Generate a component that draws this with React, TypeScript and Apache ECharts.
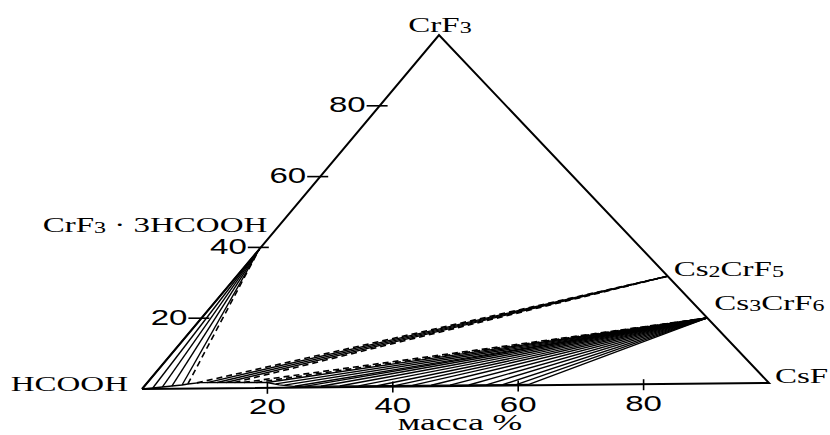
import React, { useEffect, useRef } from 'react';
import * as echarts from 'echarts';

// Compositions are [CsF mass %, CrF3 mass %]; HCOOH is the remainder.
const vertexHCOOH: [number, number] = [0, 0];
const vertexCsF: [number, number] = [100, 0];
const vertexCrF3: [number, number] = [0, 100];
const solvate: [number, number] = [0, 39.5]; // CrF3·3HCOOH
const cs2crf5: [number, number] = [69.3, 30.7];
const cs3crf6: [number, number] = [81.3, 18.7];

const leftTicks = [20, 40, 60, 80];
const bottomTicks = [20, 40, 60, 80];
const axisTitle = 'масса %';

// Liquid (solubility) curve
const liquidus: [number, number][] = [
  [0, 0], [1.6, 0.25], [3.0, 0.5], [4.4, 0.77], [5.9, 1.03], [6.7, 1.3], [8.5, 1.65],
  [13, 1.62], [19.2, 1.5], [21.5, 0.8], [24, 0.35], [61.6, 0.25],
];

// Tie lines: liquid compositions connected to solid phases
const solvateSolid: [number, number][] = [[0, 0], [1.6, 0.25], [3.0, 0.5], [4.4, 0.77], [5.9, 1.03]];
const solvateDashed: [number, number][] = [[6.7, 1.3]];
const cs2Solid: [number, number][] = [[9.6, 1.65], [11.2, 1.64], [12.6, 1.62]];
const cs2Dashed: [number, number][] = [[8.0, 1.6], [14.0, 1.61]];
const cs3Solid: [number, number][] = [
  [19.2, 1.5], [20.8, 1.1], [22.4, 0.7], [24.2, 0.35], [25.8, 0.3], [28.4, 0.3], [31.4, 0.3],
  [34.4, 0.3], [37.4, 0.28], [40.2, 0.28], [43, 0.28], [46, 0.27], [49, 0.27], [52, 0.26],
  [54.8, 0.26], [57.4, 0.25], [59.6, 0.25], [61.6, 0.25],
];
const cs3Dashed: [number, number][] = [[15.5, 1.6], [17.5, 1.55]];

// Frame geometry (layout of the drawn triangle)
const SKEW_X = 0.4737;
const TILT_Y = 0.0169;
const toXY = (p: [number, number]): [number, number] => [p[0] + SKEW_X * p[1], p[1] + TILT_Y * p[0]];

const serif = '"Liberation Serif", "Times New Roman", serif';
const sans = '"Liberation Sans", Arial, sans-serif';
const FS = 22;
const SUB = 16;
const SX = 1.5;

function label(x: number, y: number, text: string, align: string, rich?: boolean, font = serif, size = FS, sx = SX) {
  const base: any = {
    type: 'text',
    x,
    y,
    scaleX: sx,
    silent: true,
    style: {
      text,
      fill: '#000',
      fontFamily: font,
      fontSize: size,
      align,
      textAlign: align,
      verticalAlign: 'middle',
      textVerticalAlign: 'middle',
    },
  };
  if (rich) {
    base.style.rich = {
      m: { fontFamily: serif, fontSize: FS, fill: '#000', verticalAlign: 'bottom' },
      s: { fontFamily: serif, fontSize: SUB, fill: '#000', verticalAlign: 'bottom' },
    };
  }
  return base;
}

export default function App() {
  const ref = useRef<HTMLDivElement>(null);
  useEffect(() => {
    const chart = echarts.init(ref.current!, undefined, { renderer: 'svg' });
    const tie = (from: [number, number][], to: [number, number]) =>
      from.map((p) => ({ coords: [toXY(p), toXY(to)] }));
    const lineSeries = (data: any[], width: number, type: any, polyline = false) => ({
      type: 'lines',
      coordinateSystem: 'cartesian2d',
      polyline,
      clip: false,
      silent: true,
      animation: false,
      lineStyle: { color: '#000', width, type, opacity: 1 },
      data,
    });
    chart.setOption({
      animation: false,
      backgroundColor: '#fff',
      grid: { left: 142, top: 35, width: 627, height: 354 },
      xAxis: { type: 'value', min: 0, max: 100, show: false },
      yAxis: { type: 'value', min: 0, max: 100, show: false },
      series: [
        lineSeries([{ coords: [vertexHCOOH, vertexCsF, vertexCrF3, vertexHCOOH].map(toXY) }], 2, 'solid', true),
        lineSeries([{ coords: liquidus.map(toXY) }], 1.4, 'solid', true),
        lineSeries([...tie(solvateSolid, solvate), ...tie(cs2Solid, cs2crf5), ...tie(cs3Solid, cs3crf6)], 1.4, 'solid'),
        lineSeries([...tie(solvateDashed, solvate), ...tie(cs2Dashed, cs2crf5), ...tie(cs3Dashed, cs3crf6)], 1.6, [6, 4]),
      ],
    });

    const px = (p: [number, number]) => chart.convertToPixel({ gridIndex: 0 }, toXY(p)) as number[];
    const els: any[] = [];
    leftTicks.forEach((v) => {
      const [x, y] = px([0, v]);
      els.push({ type: 'line', silent: true, shape: { x1: x - 13, y1: y, x2: x + 8, y2: y }, style: { stroke: '#000', lineWidth: 1.6 } });
      els.push(label(x - 14, y - 1, String(v), 'right', false, sans, FS, SX));
    });
    bottomTicks.forEach((v) => {
      const [x, y] = px([v, 0]);
      els.push({ type: 'line', silent: true, shape: { x1: x, y1: y - 5, x2: x, y2: y + 6 }, style: { stroke: '#000', lineWidth: 1.6 } });
      els.push(label(x, y + 19, String(v), 'center', false, sans, FS, SX));
    });
    const H = px(vertexHCOOH), F = px(vertexCsF), T = px(vertexCrF3);
    const S = px(solvate), B = px(cs2crf5), C = px(cs3crf6);
    const mid = px([50, 0]);
    els.push(label(H[0] - 14, H[1] - 5, 'HCOOH', 'right'));
    els.push(label(F[0] + 6, F[1] - 7.5, 'CsF', 'left'));
    els.push(label(T[0] + 1, T[1] - 10.5, '{m|CrF}{s|3}', 'center', true));
    els.push(label(S[0] + 8, S[1] - 25, '{m|CrF}{s|3}{m| · 3HCOOH}', 'right', true));
    els.push(label(B[0] + 6, B[1] - 8, '{m|Cs}{s|2}{m|CrF}{s|5}', 'left', true));
    els.push(label(C[0] + 7, C[1] - 15.5, '{m|Cs}{s|3}{m|CrF}{s|6}', 'left', true));
    els.push(label(mid[0] + 4.5, mid[1] + 36, axisTitle, 'center', false, serif, 23, 1.55));
    chart.setOption({ graphic: { elements: els } });

    return () => chart.dispose();
  }, []);
  return (
    <div
      ref={ref}
      style={{ position: 'fixed', left: 0, top: 0, width: 830, height: 435, background: '#fff' }}
    />
  );
}
